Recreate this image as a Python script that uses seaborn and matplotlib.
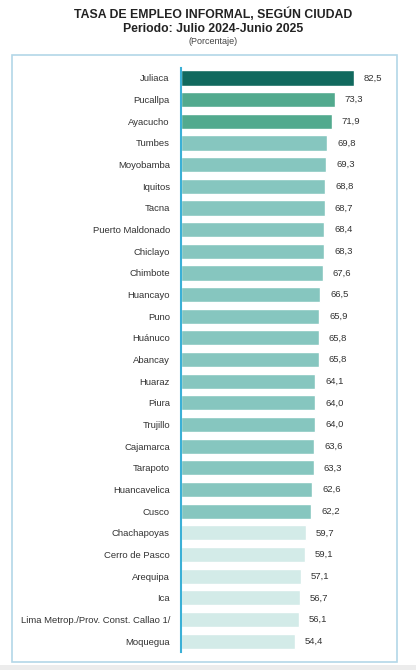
import matplotlib
matplotlib.use("Agg")
import matplotlib.pyplot as plt
import seaborn as sns
import pandas as pd
from matplotlib.patches import Rectangle
from matplotlib import font_manager

ciudades = ["Juliaca", "Pucallpa", "Ayacucho", "Tumbes", "Moyobamba", "Iquitos", "Tacna",
            "Puerto Maldonado", "Chiclayo", "Chimbote", "Huancayo", "Puno", "Huánuco",
            "Abancay", "Huaraz", "Piura", "Trujillo", "Cajamarca", "Tarapoto",
            "Huancavelica", "Cusco", "Chachapoyas", "Cerro de Pasco", "Arequipa", "Ica",
            "Lima Metrop./Prov. Const. Callao 1/", "Moquegua"]
tasas = [82.5, 73.3, 71.9, 69.8, 69.3, 68.8, 68.7, 68.4, 68.3, 67.6, 66.5, 65.9, 65.8,
         65.8, 64.1, 64.0, 64.0, 63.6, 63.3, 62.6, 62.2, 59.7, 59.1, 57.1, 56.7, 56.1, 54.4]
grupos = ["max"] + ["alto"] * 2 + ["medio"] * 18 + ["bajo"] * 6
colores_grupo = {"max": "#11695e", "alto": "#52aa8e", "medio": "#86c6bf", "bajo": "#d3ebe8"}

df = pd.DataFrame({"ciudad": ciudades, "tasa": tasas, "grupo": grupos})
palette = {c: colores_grupo[g] for c, g in zip(ciudades, grupos)}

sns.set_style("white")
plt.rcParams["font.family"] = ["Liberation Sans", "DejaVu Sans"]

names = {f.name for f in font_manager.fontManager.ttflist}
narrow = "Liberation Sans Narrow" in names
lab_family = ["Liberation Sans Narrow", "DejaVu Sans"] if narrow else ["Liberation Sans", "DejaVu Sans"]
lab_size = 8 if narrow else 6.8

fig = plt.figure(figsize=(4.16, 6.70), dpi=100)
W, H = 416, 670

# frame
fig.patches.append(Rectangle((12 / W, 1 - 662 / H), (397 - 12) / W, (662 - 55) / H,
                             transform=fig.transFigure, fill=False,
                             edgecolor="#b3d7e8", linewidth=1.2))
fig.patches.append(Rectangle((0, 0), 1, 1 - 665 / H, transform=fig.transFigure,
                             facecolor="#ececec", edgecolor="none"))

ax = fig.add_axes([181 / W, 1 - 652 / H, 209.7 / W, (652 - 68) / H])
sns.barplot(data=df, y="ciudad", x="tasa", hue="ciudad", palette=palette,
            legend=False, ax=ax, width=0.7, orient="h", saturation=1)
ax.set_xlim(0, 100)
ax.set_ylim(26.5, -0.46)
ax.set_xlabel("")
ax.set_ylabel("")
ax.set_xticks([])
for s in ["top", "right", "bottom"]:
    ax.spines[s].set_visible(False)
ax.spines["left"].set_color("#3bb0d6")
ax.spines["left"].set_linewidth(1.5)
ax.tick_params(axis="y", length=0, pad=8, labelcolor="#333333")
for t in ax.get_yticklabels():
    t.set_family(lab_family)
    t.set_fontsize(lab_size)

for i, v in enumerate(tasas):
    ax.text(v + 4.7, i, f"{v:.1f}".replace(".", ","), va="center", ha="left",
            fontsize=lab_size, family=lab_family, color="#333333")

fig.text(0.512, 1 - 14 / H, "TASA DE EMPLEO INFORMAL, SEGÚN CIUDAD", ha="center",
         va="center", fontsize=8.8, fontweight="bold", color="#222222")
fig.text(0.512, 1 - 29 / H, "Periodo: Julio 2024-Junio 2025", ha="center",
         va="center", fontsize=8.8, fontweight="bold", color="#222222")
fig.text(0.512, 1 - 42 / H, "(Porcentaje)", ha="center", va="center",
         fontsize=6.5, family=lab_family, color="#444444")

fig.savefig("out.png", dpi=100)
